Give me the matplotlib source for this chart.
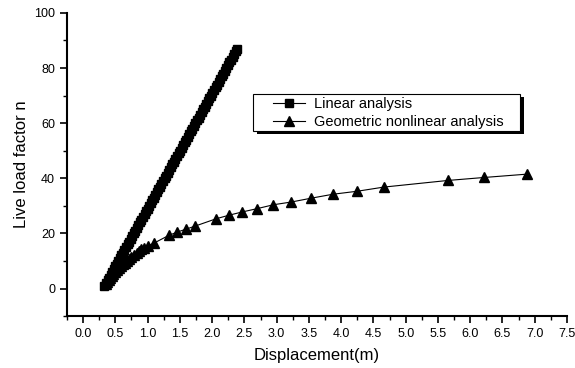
import matplotlib
matplotlib.use('Agg')
import matplotlib.pyplot as plt
from matplotlib.patches import Rectangle
from matplotlib.ticker import MultipleLocator, FormatStrFormatter

plt.rcParams['font.family'] = ['Liberation Sans', 'DejaVu Sans']

# linear analysis
lin_x = [0.330, 0.354, 0.378, 0.402, 0.426, 0.450, 0.474, 0.498, 0.521, 0.545,
         0.569, 0.593, 0.617, 0.641, 0.665, 0.689, 0.713, 0.737, 0.761, 0.785,
         0.809, 0.833, 0.856, 0.880, 0.904, 0.928, 0.952, 0.976, 1.000, 1.024,
         1.048, 1.072, 1.096, 1.120, 1.144, 1.168, 1.191, 1.215, 1.239, 1.263,
         1.287, 1.311, 1.335, 1.359, 1.383, 1.407, 1.431, 1.455, 1.479, 1.503,
         1.526, 1.550, 1.574, 1.598, 1.622, 1.646, 1.670, 1.694, 1.718, 1.742,
         1.766, 1.790, 1.814, 1.838, 1.861, 1.885, 1.909, 1.933, 1.957, 1.981,
         2.005, 2.029, 2.053, 2.077, 2.101, 2.125, 2.149, 2.173, 2.196, 2.220,
         2.244, 2.268, 2.292, 2.316, 2.340, 2.364, 2.388]
lin_y = [1, 2, 3, 4, 5, 6, 7, 8, 9, 10, 11, 12, 13, 14, 15, 16, 17, 18, 19,
         20, 21, 22, 23, 24, 25, 26, 27, 28, 29, 30, 31, 32, 33, 34, 35, 36,
         37, 38, 39, 40, 41, 42, 43, 44, 45, 46, 47, 48, 49, 50, 51, 52, 53,
         54, 55, 56, 57, 58, 59, 60, 61, 62, 63, 64, 65, 66, 67, 68, 69, 70,
         71, 72, 73, 74, 75, 76, 77, 78, 79, 80, 81, 82, 83, 84, 85, 86, 87]

# geometric nonlinear analysis
nl_x = [0.35, 0.37, 0.40, 0.42, 0.45, 0.47, 0.50, 0.53, 0.56, 0.59, 0.62,
        0.65, 0.68, 0.71, 0.75, 0.79, 0.83, 0.86, 0.90, 0.95, 1.00, 1.10,
        1.33, 1.46, 1.59, 1.73, 2.06, 2.26, 2.47, 2.70, 2.95, 3.23, 3.54,
        3.87, 4.25, 4.66, 5.65, 6.22, 6.88]
nl_y = [1.5, 2.2, 3.0, 3.7, 4.5, 5.2, 6.0, 6.8, 7.5, 8.2, 8.8,
        9.4, 10.0, 10.6, 11.3, 12.0, 12.8, 13.5, 14.2, 14.8, 15.4, 16.5,
        19.3, 20.5, 21.5, 22.6, 25.3, 26.6, 27.8, 29.0, 30.4, 31.4, 32.8,
        34.2, 35.3, 36.8, 39.2, 40.3, 41.5]

fig = plt.figure(figsize=(5.75, 3.68), dpi=100)
ax = fig.add_axes([0.1165, 0.141, 0.8695, 0.824])

ax.plot(lin_x, lin_y, color='black', lw=0.8, marker='s', markersize=6,
        label='Linear analysis')
ax.plot(nl_x, nl_y, color='black', lw=0.8, marker='^', markersize=7,
        label='Geometric nonlinear analysis')

ax.set_xlim(-0.25, 7.5)
ax.set_ylim(-10, 100)
ax.xaxis.set_major_locator(MultipleLocator(0.5))
ax.xaxis.set_minor_locator(MultipleLocator(0.25))
ax.yaxis.set_major_locator(MultipleLocator(20))
ax.yaxis.set_minor_locator(MultipleLocator(10))
ax.xaxis.set_major_formatter(FormatStrFormatter('%.1f'))

for s in ['top', 'right']:
    ax.spines[s].set_visible(False)
for s in ['left', 'bottom']:
    ax.spines[s].set_linewidth(1.5)

ax.tick_params(which='major', length=5, width=1.2, labelsize=9)
ax.tick_params(which='minor', length=3, width=1.0)

ax.set_xlabel('Displacement(m)', fontsize=12, labelpad=6)
ax.set_ylabel('Live load factor n', fontsize=12, labelpad=4)

# legend box with a dark drop shadow, drawn by hand
ax.add_patch(Rectangle((0.380, 0.600), 0.534, 0.124, transform=ax.transAxes,
                       facecolor='black', edgecolor='none', zorder=4,
                       clip_on=False))
ax.add_patch(Rectangle((0.372, 0.610), 0.534, 0.124, transform=ax.transAxes,
                       facecolor='white', edgecolor='black', lw=0.8,
                       zorder=5, clip_on=False))
leg = ax.legend(loc='upper left', bbox_to_anchor=(0.412, 0.722), fontsize=10.5,
                frameon=False, borderpad=0, borderaxespad=0,
                handlelength=2.2, handletextpad=0.6, labelspacing=0.25)
leg.set_zorder(6)

fig.savefig('out.png', dpi=100)
